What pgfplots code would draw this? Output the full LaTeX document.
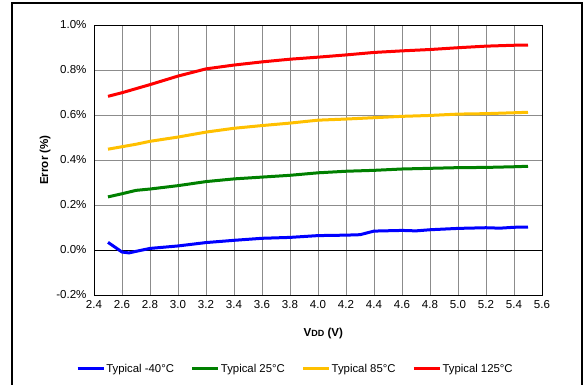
\documentclass[border=0pt]{standalone}
\usepackage{pgfplots}
\pgfplotsset{compat=1.18}
\usepackage{fontspec}
\setmainfont{Liberation Sans}
\definecolor{cblue}{RGB}{0,0,255}
\definecolor{cgreen}{RGB}{0,128,0}
\definecolor{cyellow}{RGB}{255,192,0}
\definecolor{cred}{RGB}{255,0,0}
\begin{document}
\begin{tikzpicture}
\useasboundingbox (0,0) rectangle (586bp,385bp);
\draw[line width=2bp] (12bp,-3bp) -- (12bp,382bp) -- (582bp,382bp) -- (582bp,-3bp);
\begin{axis}[
  at={(94bp,90bp)}, anchor=south west,
  width=448bp, height=270bp, scale only axis,
  xmin=2.4, xmax=5.6, ymin=-0.2, ymax=1.0,
  xtick={2.4,2.6,...,5.61}, ytick={-0.2,0,0.2,0.4,0.6,0.8,1.0},
  grid=major, major grid style={gray!90, line width=0.8bp},
  major tick length=0pt,
  axis line style={black, line width=0.9bp},
  font=\fontsize{11.6}{14}\selectfont,
  /pgf/number format/assume math mode=true,
  xticklabel={\pgfmathprintnumber[fixed,fixed zerofill,precision=1]{\tick}},
  yticklabel={\pgfmathprintnumber[fixed,fixed zerofill,precision=1]{\tick}\%},
  xticklabel style={yshift=-2bp},
  yticklabel style={xshift=-4bp},
  extra y ticks={0}, extra y tick labels={},
  extra y tick style={grid=major, major grid style={black, line width=0.9bp}},
  xlabel={\textbf{V{\fontsize{9}{10}\selectfont DD} (V)}},
  ylabel={\textbf{Error (\%)}},
  xlabel style={at={(axis description cs:0.512,-0.141)}, anchor=center},
  ylabel style={at={(axis description cs:-0.109,0.5)}, anchor=center},
  legend columns=4,
  legend style={draw=none, fill=none, inner sep=0pt, at={(axis description cs:-0.0402,-0.274)}, anchor=west,
    font=\fontsize{11.4}{14}\selectfont,
    nodes={inner sep=1.2bp},
    /tikz/every even column/.append style={column sep=15.5bp}},
  legend image code/.code={\draw[#1, line width=3bp] (0bp,0bp) -- (26bp,0bp);},
  every axis plot/.append style={line width=3bp, line join=round},
]
\addplot[cblue] coordinates {
(2.5,0.034) (2.6,-0.009) (2.65,-0.013) (2.7,-0.006) (2.8,0.007) (3.0,0.018) (3.2,0.033) (3.4,0.043) (3.6,0.052) (3.8,0.056) (4.0,0.064) (4.2,0.066) (4.3,0.068) (4.4,0.084) (4.6,0.087) (4.7,0.085) (4.8,0.090) (5.0,0.096) (5.2,0.099) (5.3,0.097) (5.4,0.101) (5.5,0.102)};
\addlegendentry{Typical -40°C}
\addplot[cgreen] coordinates {
(2.5,0.236) (2.6,0.250) (2.7,0.265) (2.8,0.271) (3.0,0.286) (3.2,0.304) (3.4,0.316) (3.6,0.324) (3.8,0.332) (4.0,0.343) (4.2,0.350) (4.4,0.354) (4.6,0.360) (4.8,0.363) (5.0,0.366) (5.2,0.367) (5.4,0.370) (5.5,0.372)};
\addlegendentry{Typical 25°C}
\addplot[cyellow] coordinates {
(2.5,0.448) (2.6,0.459) (2.7,0.470) (2.8,0.483) (3.0,0.502) (3.2,0.524) (3.4,0.541) (3.6,0.553) (3.8,0.564) (4.0,0.577) (4.2,0.582) (4.4,0.588) (4.6,0.594) (4.8,0.598) (5.0,0.604) (5.2,0.606) (5.4,0.610) (5.5,0.612)};
\addlegendentry{Typical 85°C}
\addplot[cred] coordinates {
(2.5,0.683) (2.6,0.699) (2.8,0.735) (3.0,0.773) (3.2,0.805) (3.4,0.822) (3.6,0.836) (3.8,0.848) (4.0,0.857) (4.2,0.867) (4.4,0.878) (4.6,0.885) (4.8,0.891) (5.0,0.899) (5.2,0.906) (5.4,0.910) (5.5,0.911)};
\addlegendentry{Typical 125°C}
\end{axis}
\end{tikzpicture}
\end{document}
